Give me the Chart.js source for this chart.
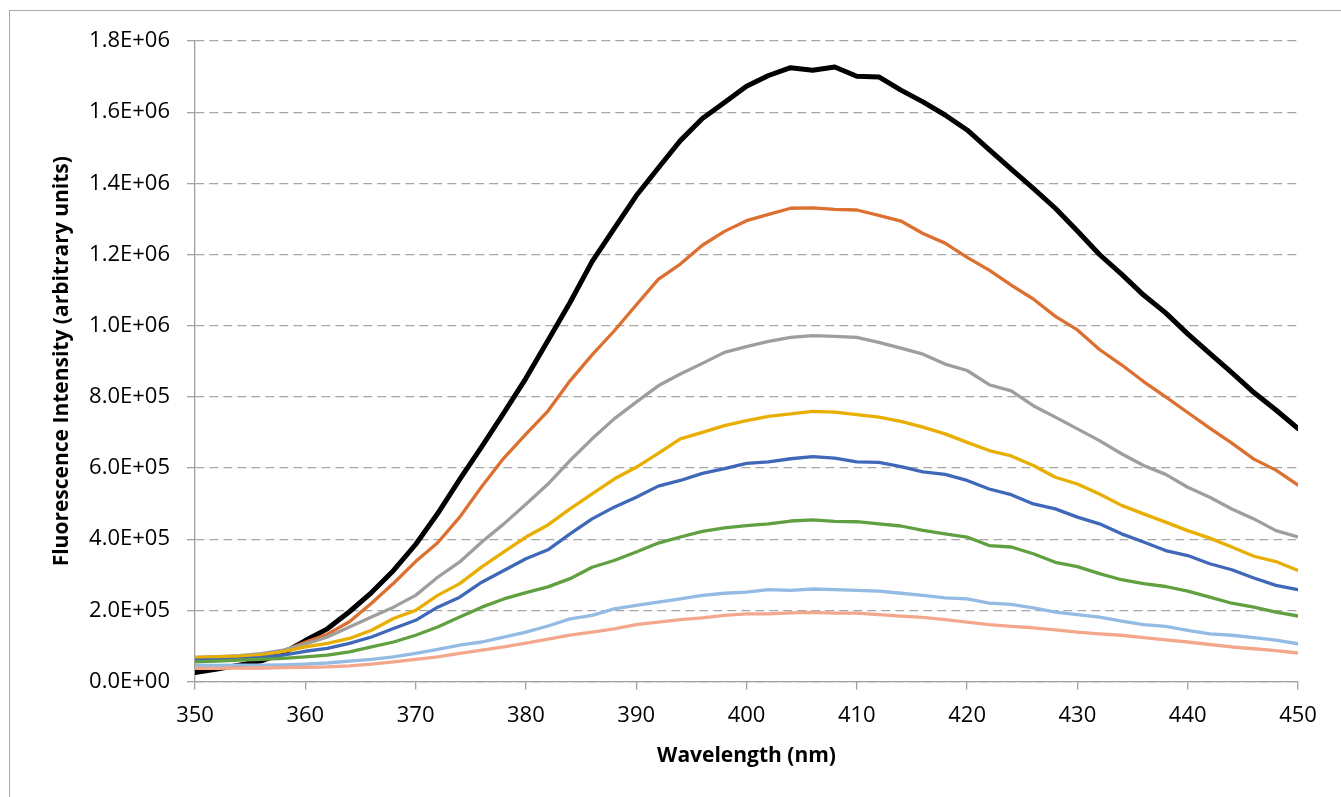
<!DOCTYPE html>
<html>
<head>
<meta charset="utf-8">
<script src="https://cdn.jsdelivr.net/npm/chart.js@4/dist/chart.umd.min.js"></script>
<style>
    html, body { margin: 0; padding: 0; background: #fff; overflow: hidden; }
    #wrap { position: relative; width: 1341px; height: 797px; }
    #frame { position: absolute; left: 9px; top: 10px; width: 1400px; height: 900px; border: 1px solid #a8a8a8; box-sizing: border-box; }
    canvas { position: absolute; left: 0; top: 0; }
</style>
</head>
<body>
<div id="wrap">
    <div id="frame"></div>
    <canvas id="chart" width="1341" height="797"></canvas>
</div>
<script>
// wavelength (nm), every 2 nm
const wavelengths = [350, 352, 354, 356, 358, 360, 362, 364, 366, 368, 370, 372, 374, 376, 378, 380, 382, 384, 386, 388,
    390, 392, 394, 396, 398, 400, 402, 404, 406, 408, 410, 412, 414, 416, 418, 420, 422, 424, 426, 428,
    430, 432, 434, 436, 438, 440, 442, 444, 446, 448, 450];

// intensities in thousands
const blackVals = [25, 35, 46, 58, 80, 115, 148, 196, 250, 312, 385, 472, 568, 660, 755, 852, 958, 1065, 1180, 1273,
    1365, 1443, 1520, 1582, 1627, 1673, 1703, 1725, 1718, 1727, 1701, 1699, 1662, 1629, 1592, 1550, 1495, 1440, 1386, 1330,
    1266, 1200, 1145, 1086, 1036, 977, 922, 868, 812, 763, 711];
const orangeVals = [60, 62, 66, 73, 86, 110, 133, 168, 220, 276, 337, 390, 462, 548, 628, 695, 760, 845, 918, 985,
    1058, 1130, 1173, 1226, 1265, 1295, 1313, 1330, 1331, 1327, 1325, 1310, 1294, 1259, 1232, 1192, 1156, 1114, 1075, 1026,
    988, 933, 890, 843, 800, 756, 712, 670, 625, 594, 552];
const grayVals = [68, 70, 73, 78, 88, 105, 125, 153, 181, 209, 242, 293, 336, 392, 443, 498, 555, 621, 682, 738,
    785, 831, 864, 894, 925, 941, 956, 967, 972, 970, 967, 953, 937, 920, 892, 874, 834, 817, 775, 743,
    710, 677, 640, 607, 582, 546, 518, 485, 457, 424, 406];
const yellowVals = [68, 69, 71, 75, 84, 97, 107, 121, 144, 177, 200, 242, 275, 322, 364, 406, 440, 485, 527, 569,
    602, 641, 682, 700, 719, 733, 745, 752, 759, 757, 750, 743, 731, 715, 696, 672, 649, 634, 607, 574,
    555, 527, 495, 471, 448, 424, 403, 378, 352, 337, 312];
const blueVals = [60, 61, 63, 67, 74, 85, 93, 107, 125, 149, 172, 209, 237, 279, 312, 345, 370, 415, 457, 490,
    518, 549, 565, 585, 598, 613, 617, 626, 632, 628, 617, 616, 604, 589, 582, 565, 541, 525, 499, 485,
    462, 443, 415, 392, 368, 354, 331, 314, 291, 270, 258];
const greenVals = [55, 57, 60, 62, 65, 69, 74, 83, 97, 111, 130, 153, 181, 209, 232, 250, 266, 289, 321, 340,
    364, 389, 406, 422, 432, 438, 443, 451, 454, 450, 449, 443, 437, 425, 415, 406, 382, 378, 359, 335,
    323, 303, 286, 275, 267, 254, 237, 220, 209, 195, 184];
const lightBlueVals = [45, 45, 46, 46, 47, 49, 52, 57, 62, 69, 79, 90, 102, 111, 125, 139, 156, 176, 186, 204,
    214, 223, 232, 242, 248, 251, 258, 256, 260, 258, 256, 254, 248, 242, 235, 232, 220, 217, 207, 195,
    188, 181, 170, 160, 155, 144, 134, 130, 123, 116, 106];
const salmonVals = [37, 37, 38, 38, 39, 40, 41, 44, 49, 55, 62, 69, 79, 88, 97, 108, 119, 130, 139, 148,
    160, 167, 174, 179, 186, 190, 190, 193, 194, 192, 192, 188, 184, 180, 174, 167, 160, 155, 151, 145,
    139, 134, 130, 123, 117, 111, 104, 97, 92, 87, 80];

const xTicks = [350, 360, 370, 380, 390, 400, 410, 420, 430, 440, 450];
const yMax = 1.8e6;
const yStep = 2e5;

const toPoints = vals => vals.map((v, i) => ({ x: wavelengths[i], y: v * 1000 }));

// 0.0E+00 style like Excel
const sciLabel = v => {
    const [m, e] = Number(v).toExponential(1).split('e');
    const sign = e[0] === '-' ? '-' : '+';
    const exp = String(Math.abs(parseInt(e, 10))).padStart(2, '0');
    return m.toUpperCase() + 'E' + sign + exp;
};

const series = [
    { vals: salmonVals, color: '#f3a78c', width: 3.3 },
    { vals: lightBlueVals, color: '#94bbe3', width: 3.3 },
    { vals: greenVals, color: '#60a040', width: 3.3 },
    { vals: blueVals, color: '#3f68b8', width: 3.3 },
    { vals: yellowVals, color: '#e8ae00', width: 3.3 },
    { vals: grayVals, color: '#9e9e9e', width: 3.3 },
    { vals: orangeVals, color: '#dc7030', width: 3.3 },
    { vals: blackVals, color: '#000000', width: 5 }
];

const axisColor = '#a0a0a0';
const font = 'Open Sans';

new Chart(document.getElementById('chart'), {
    type: 'line',
    data: {
        datasets: series.map(s => ({
            data: toPoints(s.vals),
            borderColor: s.color,
            borderWidth: s.width,
            pointRadius: 0,
            fill: false,
            tension: 0,
            borderJoinStyle: 'round',
            borderCapStyle: 'round'
        }))
    },
    options: {
        responsive: false,
        animation: false,
        devicePixelRatio: 1,
        layout: { padding: { left: 0, right: 43, top: 41, bottom: 0 } },
        plugins: { legend: { display: false }, tooltip: { enabled: false } },
        scales: {
            x: {
                type: 'linear',
                min: 350,
                max: 450,
                afterBuildTicks: s => { s.ticks = xTicks.map(v => ({ value: v })); },
                afterFit: s => { s.height = 115.5; },
                grid: { drawOnChartArea: false, drawTicks: true, tickLength: 8, color: axisColor, lineWidth: 1.3 },
                border: { display: true, color: axisColor, width: 1.3 },
                ticks: { color: '#000', font: { family: font, size: 22 }, padding: 13, maxRotation: 0 },
                title: {
                    display: true,
                    text: 'Wavelength (nm)',
                    color: '#000',
                    font: { family: font, size: 21, weight: 'bold' },
                    padding: { top: 0, bottom: 28 }
                }
            },
            y: {
                min: 0,
                max: yMax,
                afterFit: s => { s.width = 195; },
                grid: { color: '#a6a6a6', lineWidth: 1.3, tickLength: 8, tickColor: axisColor, tickBorderDash: [] },
                border: { display: true, color: axisColor, width: 1.3, dash: [9, 5] },
                ticks: { stepSize: yStep, color: '#000', font: { family: font, size: 22 }, padding: 17, callback: v => sciLabel(v) },
                title: {
                    display: true,
                    text: 'Fluorescence Intensity (arbitrary units)',
                    color: '#000',
                    font: { family: font, size: 21, weight: 'bold' },
                    padding: { top: 49, bottom: 0 }
                }
            }
        }
    }
});
</script>
</body>
</html>
